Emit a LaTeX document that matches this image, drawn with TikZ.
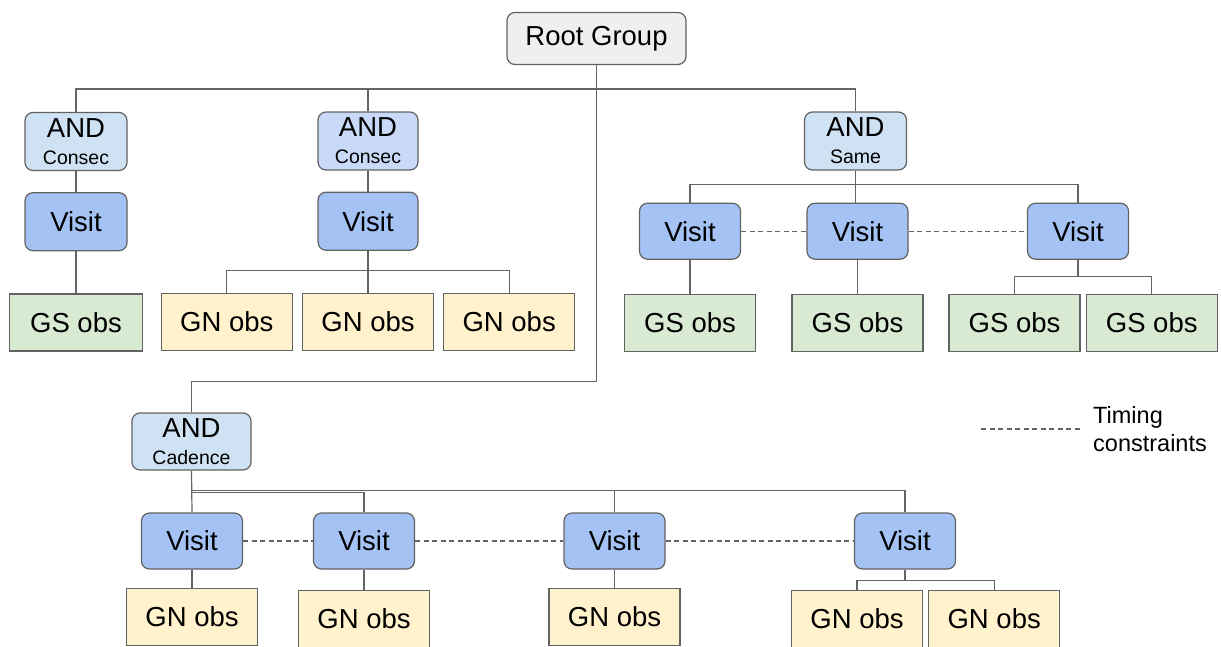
\documentclass[tikz,border=0pt]{standalone}
\usepackage{fontspec}
\setmainfont{Liberation Sans}
\usepackage{tikz}
\usetikzlibrary{positioning}
\usepackage{xcolor}
\definecolor{boxline}{RGB}{98,98,98}
\definecolor{wire}{RGB}{100,100,100}
\definecolor{rootGray}{RGB}{239,239,239}
\definecolor{andBlue}{RGB}{207,226,243}
\definecolor{andLilac}{RGB}{201,218,248}
\definecolor{visitBlue}{RGB}{164,194,244}
\definecolor{gsGreen}{RGB}{217,234,211}
\definecolor{gnYellow}{RGB}{255,242,204}
\newcommand{\andsub}[1]{{\fontsize{19.5}{27}\selectfont #1}}
\tikzset{
  box/.style={draw=boxline, line width=1.2pt, inner sep=0pt, align=center,
              font=\fontsize{27.5}{27}\selectfont},
  rootbox/.style={box, rounded corners=8pt, fill=rootGray,
                  minimum width=179pt, minimum height=52pt},
  andbox/.style={box, rounded corners=8pt, fill=andBlue,
                 minimum width=102pt, minimum height=58pt},
  visitbox/.style={box, rounded corners=8pt, fill=visitBlue,
                   minimum width=101pt, minimum height=57pt},
  gsobs/.style={box, fill=gsGreen, minimum width=131pt, minimum height=57pt},
  gnobs/.style={box, fill=gnYellow, minimum width=131pt, minimum height=57pt},
  link/.style={draw=wire, line width=1.2pt},
  timing/.style={draw=wire, line width=1.1pt, dash pattern=on 5pt off 3.5pt},
  legend/.style={inner sep=0pt, align=left, font=\fontsize{23.5}{27.4}\selectfont}
}
\begin{document}
\begin{tikzpicture}[x=1pt, y=-1pt, node distance=22pt]
  \useasboundingbox (0,0) rectangle (1221,646);
  \node[rootbox] (root) at (596.5,38.5) {Root Group};
  % upper groups
  \node[andbox] (and1) at (76,141.5) {AND\\\andsub{Consec}};
  \node[visitbox, minimum width=102pt, minimum height=58pt, below=21pt of and1] (v1) {Visit};
  \node[gsobs, minimum width=133pt, below=42pt of v1] (gs1) {GS obs};
  \node[andbox, fill=andLilac, minimum width=100pt] (and2) at (368,141) {AND\\\andsub{Consec}};
  \node[visitbox, minimum width=100pt, minimum height=58pt, below=21pt of and2] (v2) {Visit};
  \node[gnobs, below=42pt of v2] (n2) {GN obs};
  \node[gnobs, left=9pt of n2] (n1) {GN obs};
  \node[gnobs, right=9pt of n2] (n3) {GN obs};
  \node[andbox] (and3) at (855.5,141) {AND\\\andsub{Same}};
  \node[visitbox, minimum height=56pt, below=32pt of and3, xshift=2pt] (vb) {Visit};
  \node[visitbox, minimum height=56pt, left=65.3pt of vb] (va) {Visit};
  \node[visitbox, minimum height=56pt, right=118.3pt of vb] (vc) {Visit};
  \node[gsobs, below=34pt of va] (ga) {GS obs};
  \node[gsobs, below=34pt of vb] (gb) {GS obs};
  \node[gsobs, below=34pt of vc, xshift=-63.5pt] (gc) {GS obs};
  \node[gsobs, right=5pt of gc] (gd) {GS obs};
  % cadence group
  \node[andbox, minimum width=119pt, minimum height=57pt] (cad) at (191.5,441.5) {AND\\\andsub{Cadence}};
  \node[visitbox, minimum height=56pt] (c1) at (192,541) {Visit};
  \node[visitbox, minimum height=56pt, right=69.8pt of c1] (c2) {Visit};
  \node[visitbox, minimum height=56pt, right=148.3pt of c2] (c3) {Visit};
  \node[visitbox, minimum height=56pt, right=188.3pt of c3] (c4) {Visit};
  \node[gnobs, below=18pt of c1] (g1) {GN obs};
  \node[gnobs, below=20pt of c2] (g2) {GN obs};
  \node[gnobs, below=18pt of c3] (g3) {GN obs};
  \node[gnobs, below=20pt of c4, xshift=-48pt] (g4) {GN obs};
  \node[gnobs, right=5pt of g4] (g5) {GN obs};
  % legend
  \coordinate (tcA) at (981,429);
  \coordinate (tcB) at (1080,429);
  \node[legend, right=13pt of tcB] (tclabel) {Timing\\constraints};
  % tree lines
  \draw[link] (and1.north) -- ++(0,-23) -| (and3.north);
  \draw[link] (and2.north) -- ++(0,-23);
  \draw[link] (root.south) -- ++(0,316) -| (cad.north);
  \draw[link] (and1.south) -- (v1.north);
  \draw[link] (v1.south) -- (gs1.north -| v1.south);
  \draw[link] (and2.south) -- (v2.north);
  \draw[link] (v2.south) -- (n2.north);
  \draw[link] (n1.north) -- ++(0,-22) -| (n3.north);
  \draw[link] (and3.south) -- (and3.south |- vb.north);
  \draw[link] (va.north) -- ++(0,-18) -| (vc.north);
  \draw[link] (va.south) -- (ga.north);
  \draw[link] (vb.south) -- (gb.north);
  \draw[link] (vc.south) -- ++(0,17) -| (gc.north);
  \draw[link] (vc.south) ++(0,17) -| (gd.north);
  \draw[link] (cad.south) -- (c1.north);
  \draw[link] (c1.north) ++(0,-22) -| (c4.north);
  \draw[link] (c1.north) ++(0,-20) -| (c2.north);
  \draw[link] (c3.north) -- ++(0,-22);
  \draw[link] (c1.south) -- (g1.north);
  \draw[link] (c2.south) -- (g2.north);
  \draw[link] (c3.south) -- (g3.north);
  \draw[link] (c4.south) -- ++(0,11) -| (g4.north);
  \draw[link] (c4.south) ++(0,11) -| (g5.north);
  % timing constraints
  \draw[timing] (va.east) -- (vb.west);
  \draw[timing] (vb.east) -- (vc.west);
  \draw[timing] (c1.east) -- (c2.west);
  \draw[timing] (c2.east) -- (c3.west);
  \draw[timing] (c3.east) -- (c4.west);
  \draw[timing] (tcA) -- (tcB);
\end{tikzpicture}
\end{document}
